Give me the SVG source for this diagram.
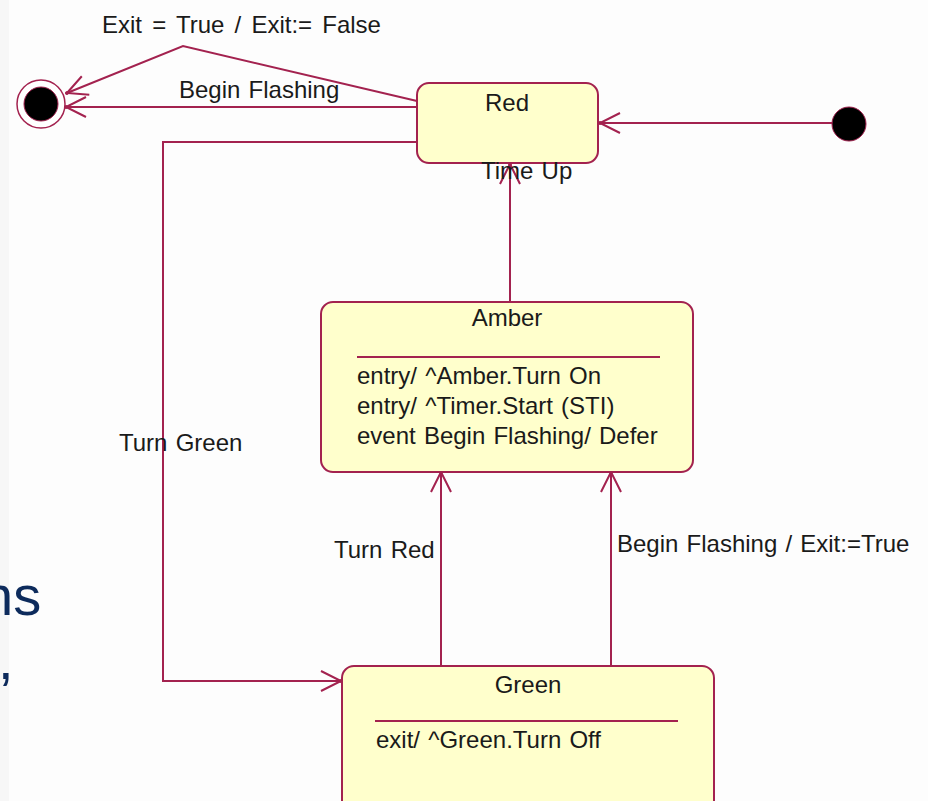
<svg xmlns="http://www.w3.org/2000/svg" width="928" height="801" viewBox="0 0 928 801">
  <style>
    .lbl { font-family: "Liberation Sans", Arial, sans-serif; font-size: 24px; word-spacing: 1.5px; fill: #1a1a1a; }
    .wide { word-spacing: 3.5px; }
    .mid { text-anchor: middle; }
    .state { fill: #ffffcc; stroke: #a3224f; stroke-width: 2; }
    .sep { stroke: #a3224f; stroke-width: 2; }
    .edge { fill: none; stroke: #a3224f; stroke-width: 2; marker-end: url(#open); }
    .slide { font-family: "Liberation Sans", Arial, sans-serif; font-size: 56px; fill: #0d2b5c; }
  </style>
  <defs>
    <!-- open V arrowhead with a small dot at the tip -->
    <marker id="open" markerUnits="userSpaceOnUse" viewBox="-24 -14 28 28" refX="0" refY="0" markerWidth="28" markerHeight="28" orient="auto" overflow="visible">
      <path d="M -20 -10 L 0 0 L -20 10" fill="none" stroke="#a3224f" stroke-width="2"/>
      <circle cx="0" cy="0" r="2" fill="#a3224f"/>
    </marker>
  </defs>

  <rect x="0" y="0" width="928" height="801" fill="#fdfdfd"/>
  <rect x="0" y="0" width="9" height="801" fill="#f7f7f7"/>

  <!-- fragments of surrounding slide text -->
  <text class="slide" x="-18" y="615">ns</text>
  <text class="slide" x="-2" y="679">,</text>

  <g id="connectors">
    <!-- Red -> final: Exit = True / Exit:= False -->
    <path class="edge" d="M 417 101 L 183 46 L 67 93"/>
    <!-- Red -> final: Begin Flashing -->
    <path class="edge" d="M 417 107 L 66 107"/>
    <!-- Red -> Green: Turn Green -->
    <path class="edge" d="M 417 142 L 163 142 L 163 681 L 341 681"/>
    <!-- initial -> Red -->
    <path class="edge" d="M 832 123 L 600 123"/>
    <!-- Amber -> Red: Time Up -->
    <path class="edge" d="M 510 302 L 510 164"/>
    <!-- Green -> Amber: Turn Red -->
    <path class="edge" d="M 441 665 L 441 472"/>
    <!-- Green -> Amber: Begin Flashing / Exit:=True -->
    <path class="edge" d="M 611 665 L 611 472"/>

    <text class="lbl wide" x="102" y="33">Exit = True / Exit:= False</text>
    <text class="lbl" x="179" y="98">Begin Flashing</text>
    <text class="lbl" x="119" y="451">Turn Green</text>
    <text class="lbl" x="334" y="558">Turn Red</text>
    <text class="lbl" x="617" y="552">Begin Flashing / Exit:=True</text>
  </g>

  <g id="final">
    <circle cx="41" cy="104" r="24" fill="#ffffff" stroke="#a3224f" stroke-width="1.5"/>
    <circle cx="41" cy="104" r="17" fill="#000000" stroke="#a3224f" stroke-width="1"/>
  </g>

  <g id="initial">
    <circle cx="849" cy="124" r="17" fill="#000000" stroke="#a3224f" stroke-width="1"/>
  </g>

  <g id="red">
    <rect class="state" x="417" y="83" width="181" height="80" rx="12"/>
    <text class="lbl mid" x="507" y="111">Red</text>
  </g>

  <!-- label drawn over the Red box edge -->
  <text class="lbl" x="481" y="179">Time Up</text>

  <g id="amber">
    <rect class="state" x="321" y="302" width="372" height="170" rx="12"/>
    <text class="lbl mid" x="507" y="326">Amber</text>
    <line class="sep" x1="357" y1="357" x2="660" y2="357"/>
    <text class="lbl" x="357" y="384">entry/ ^Amber.Turn On</text>
    <text class="lbl" x="357" y="414">entry/ ^Timer.Start (STI)</text>
    <text class="lbl" x="357" y="444">event Begin Flashing/ Defer</text>
  </g>

  <g id="green">
    <rect class="state" x="342" y="666" width="372" height="160" rx="12"/>
    <text class="lbl mid" x="528" y="693">Green</text>
    <line class="sep" x1="375" y1="721" x2="678" y2="721"/>
    <text class="lbl" x="376" y="748">exit/ ^Green.Turn Off</text>
  </g>
</svg>
